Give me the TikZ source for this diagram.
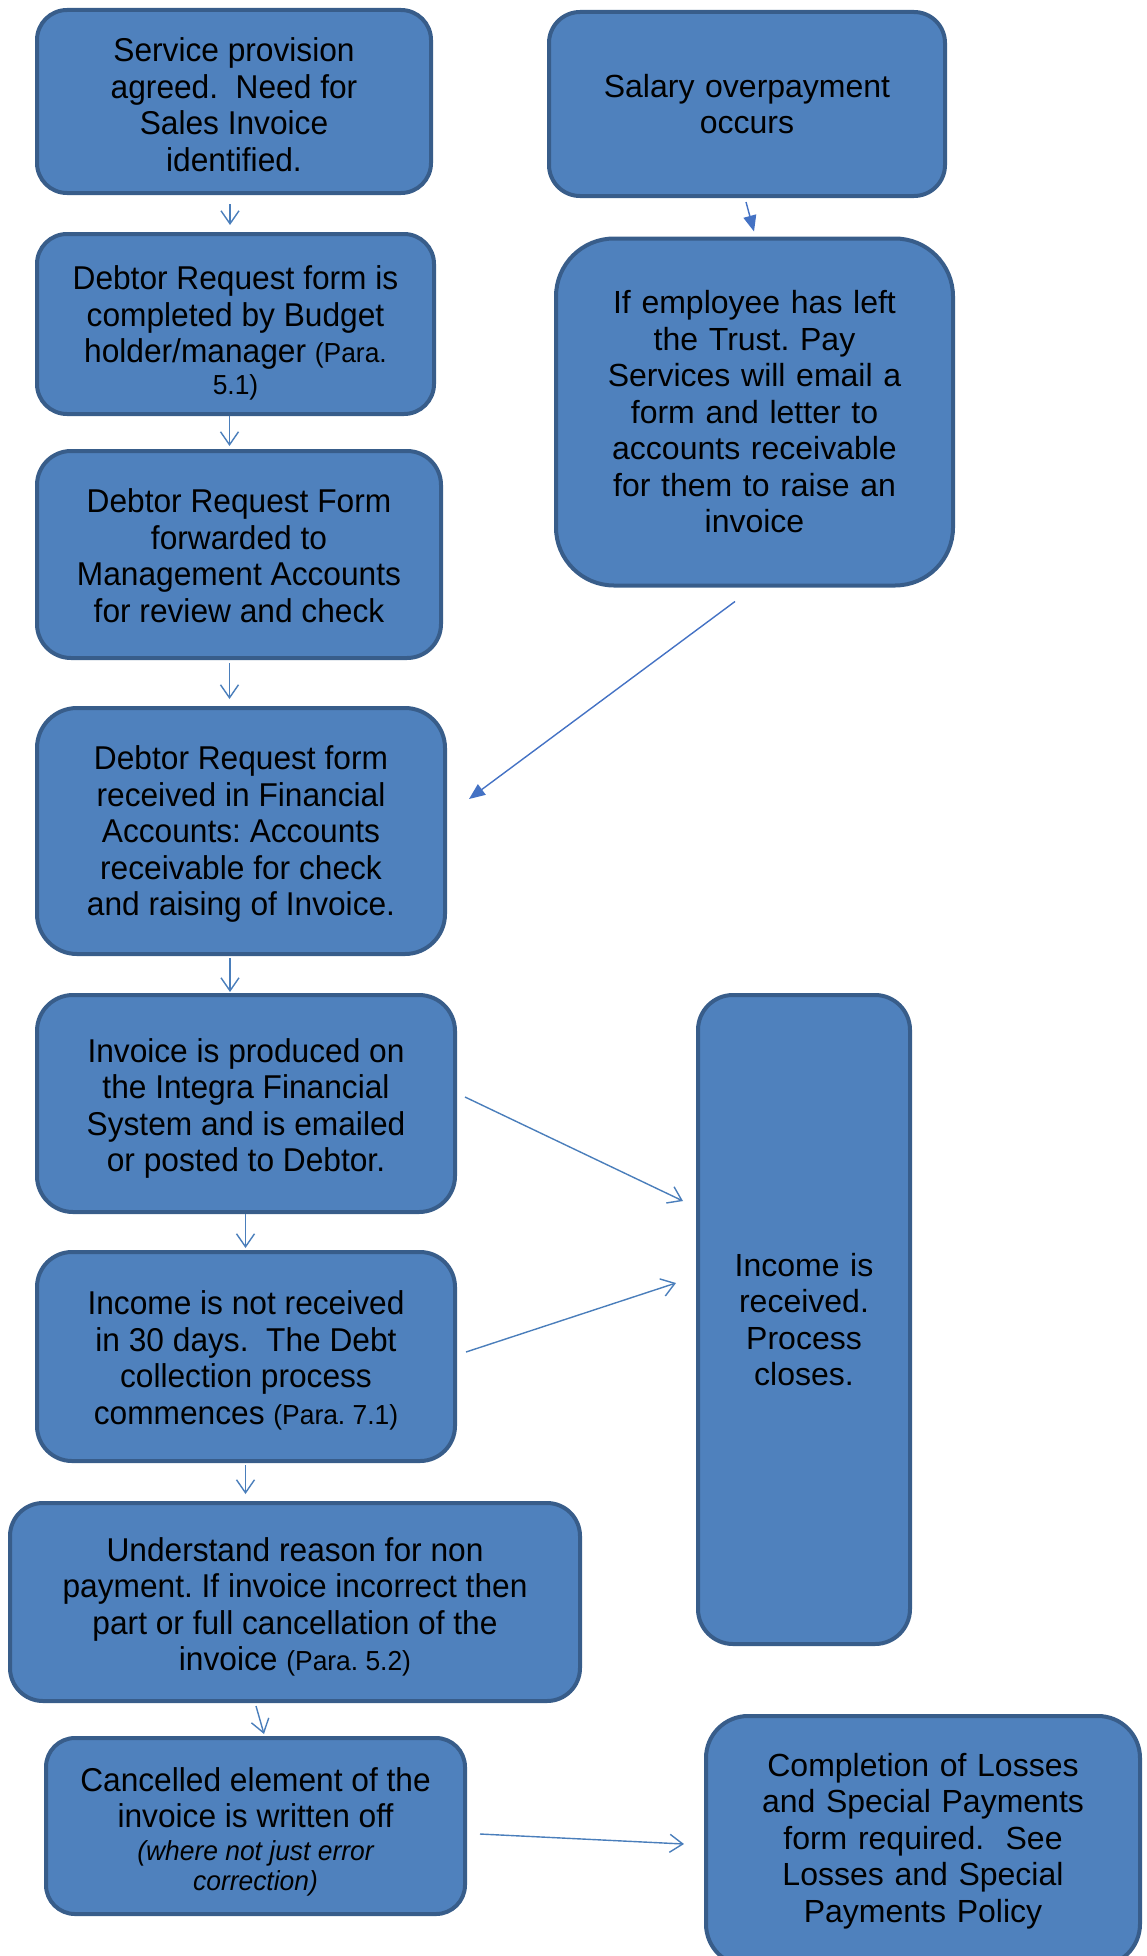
\documentclass[tikz,border=0pt]{standalone}
\usepackage{fontspec}
\setmainfont{Liberation Sans}
\newfontfamily\lfont[FakeStretch=0.96]{Liberation Sans}
\usetikzlibrary{arrows.meta}
\definecolor{boxfill}{HTML}{4F81BD}
\definecolor{boxline}{HTML}{385D8A}
\definecolor{conn}{HTML}{4A7EBB}
\definecolor{conn2}{HTML}{4472C4}
\newcommand{\smtxt}{\fontsize{27.5}{30}\selectfont}
% text block lowered by #1 without changing its size, width #2
\newcommand{\lowtxt}[3]{\raisebox{-#1}[\height][\depth]{\parbox{#2}{\centering #3}}}
\begin{document}
\frenchspacing
\begin{tikzpicture}[x=1pt,y=-1pt,
  bx/.style={draw=boxline, fill=boxfill, line width=4pt, inner sep=0pt,
    font=\lfont\fontsize{33}{36.5}\selectfont},
  rbx/.style={bx, align=center, font=\fontsize{32}{36.5}\selectfont},
  arr/.style={draw=conn, line width=1.4pt, -{Straight Barb[length=13pt,width=18pt]}},
  arrf/.style={draw=conn2, line width=1.4pt, -{Triangle[length=16pt,width=13pt]}}]
\useasboundingbox (0,0) rectangle (1146,1956);

% left column
\node[bx, minimum width=394pt, minimum height=183pt, rounded corners=30pt] (A) at (234,101.5)
  {\lowtxt{3pt}{380pt}{Service provision\\agreed.\ \ Need for\\Sales Invoice\\identified.}};
\node[bx, minimum width=397pt, minimum height=180pt, rounded corners=30pt] (B) at (235.5,324)
  {\lowtxt{9pt}{380pt}{Debtor Request form is\\completed by Budget\\holder/manager {\smtxt(Para.}\\[-5pt]{\smtxt 5.1)}}};
\node[bx, minimum width=404pt, minimum height=207pt, rounded corners=34pt] (C) at (239,554.5)
  {\lowtxt{1pt}{390pt}{Debtor Request Form\\forwarded to\\Management Accounts\\for review and check}};
\node[bx, minimum width=408pt, minimum height=246pt, rounded corners=40pt] (D) at (241,831)
  {\lowtxt{3pt}{394pt}{Debtor Request form\\received in Financial\\Accounts: Accounts\\receivable for check\\and raising of Invoice.}};
\node[bx, minimum width=418pt, minimum height=217pt, rounded corners=36pt] (E) at (246,1103.5)
  {\lowtxt{5pt}{404pt}{Invoice is produced on\\the Integra Financial\\System and is emailed\\or posted to Debtor.}};
\node[bx, minimum width=418pt, minimum height=209pt, rounded corners=35pt] (F) at (246,1356.5)
  {\lowtxt{4pt}{404pt}{Income is not received\\in 30 days.\ \ The Debt\\collection process\\commences {\smtxt(Para. 7.1)}}};
\node[bx, minimum width=570pt, minimum height=198pt, rounded corners=33pt] (G) at (295,1602)
  {\lowtxt{5pt}{556pt}{Understand reason for non\\payment. If invoice incorrect then\\part or full cancellation of the\\invoice {\smtxt(Para. 5.2)}}};
\node[bx, minimum width=419pt, minimum height=176pt, rounded corners=29pt] (H) at (255.5,1826)
  {\lowtxt{6pt}{405pt}{Cancelled element of the\\invoice is written off\\[-4pt]{\smtxt\itshape (where not just error}\\[-6pt]{\smtxt\itshape correction)}}};

% right column
\node[rbx, minimum width=396pt, minimum height=184pt, text width=382pt, rounded corners=31pt] (S1) at (747,104)
  {Salary overpayment\\occurs};
\node[rbx, minimum width=397pt, minimum height=347pt, text width=383pt, rounded corners=58pt] (S2) at (754.5,412)
  {If employee has left\\the Trust. Pay\\Services will email a\\form and letter to\\accounts receivable\\for them to raise an\\invoice};
\node[rbx, minimum width=212pt, minimum height=649pt, text width=200pt, rounded corners=35pt] (R) at (804,1319.5)
  {Income is\\received.\\Process\\closes.};
\node[rbx, minimum width=434pt, minimum height=250pt, text width=420pt, rounded corners=42pt] (L) at (923,1841)
  {Completion of Losses\\and Special Payments\\form required.\ \ See\\Losses and Special\\Payments Policy};

% connectors
\draw[arr] ([shift={(-4,9)}]A.south) -- ([shift={(-5.5,-7)}]B.north);
\draw[arr] ([shift={(-6,0)}]B.south) -- ([shift={(-9.5,-3)}]C.north);
\draw[arr] ([shift={(-9.5,3)}]C.south) -- ([shift={(-11.5,-7)}]D.north);
\draw[arr] ([shift={(-11,2)}]D.south) -- ([shift={(-16,-1)}]E.north);
\draw[arr] ([shift={(-0.5,0)}]E.south) -- ([shift={(-0.5,-2)}]F.north);
\draw[arr] ([shift={(-0.5,2)}]F.south) -- ([shift={(-49.5,-7)}]G.north);
\draw[arr] ([shift={(-39,3)}]G.south) -- ([shift={(8.5,-2)}]H.north);
\draw[arr] ([shift={(8,-6.5)}]E.east) -- ([shift={(-13,-118.5)}]R.west);
\draw[arr] ([shift={(9,-4.5)}]F.east) -- ([shift={(-20,-36.5)}]R.west);
\draw[arr] ([shift={(13,8)}]H.east) -- ([shift={(-20,3)}]L.west);
\draw[arrf] ([shift={(-1,4)}]S1.south) -- ([shift={(-0.5,-5)}]S2.north);
\draw[arrf] ([shift={(-19.5,14)}]S2.south) -- ([shift={(22,-32)}]D.east);
\end{tikzpicture}
\end{document}
